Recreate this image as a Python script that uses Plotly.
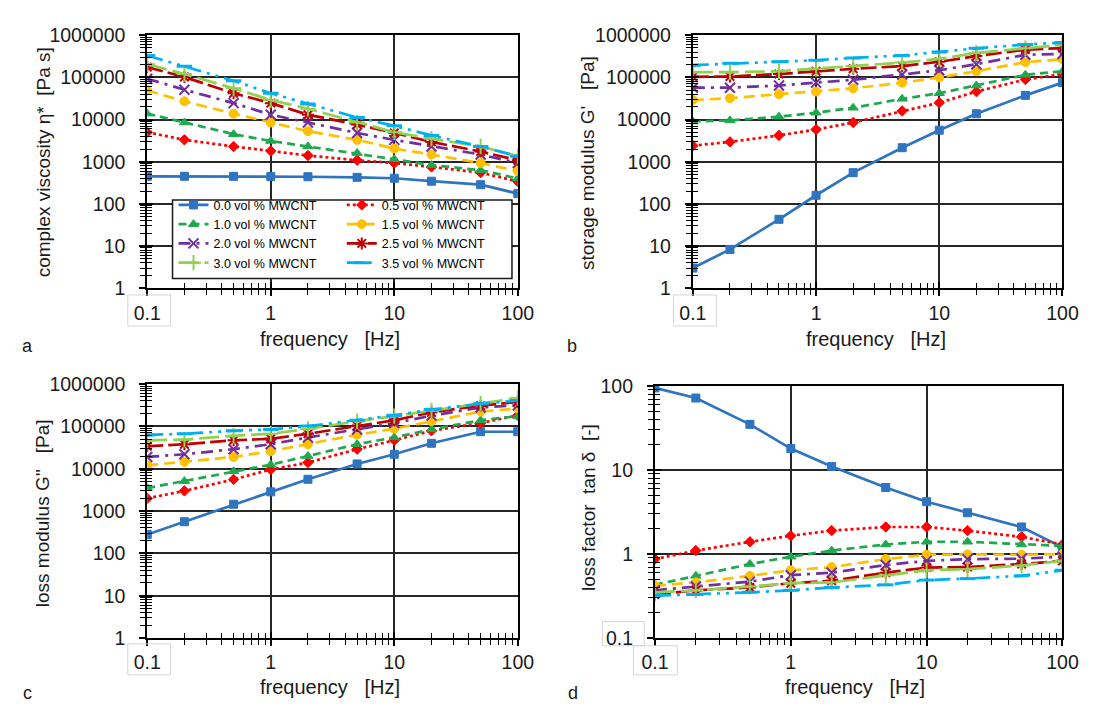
import plotly.graph_objects as go

# Oscillatory shear sweep of MWCNT composites
freq = [0.1, 0.2, 0.5, 1, 2, 5, 10, 20, 50, 100]
series_names = ["0.0 vol % MWCNT", "0.5 vol % MWCNT", "1.0 vol % MWCNT", "1.5 vol % MWCNT",
                "2.0 vol % MWCNT", "2.5 vol % MWCNT", "3.0 vol % MWCNT", "3.5 vol % MWCNT"]

# complex viscosity eta* [Pa s]
eta_00 = [450, 450, 450, 445, 440, 425, 405, 345, 285, 175]
eta_05 = [5000, 3300, 2300, 1800, 1400, 1080, 930, 750, 550, 340]
eta_10 = [13800, 8500, 4500, 3100, 2300, 1600, 1140, 830, 630, 400]
eta_15 = [49000, 27000, 13800, 8500, 5300, 3300, 2050, 1480, 930, 600]
eta_20 = [93000, 51000, 24500, 13000, 8500, 4800, 3300, 2300, 1480, 930]
eta_25 = [175000, 102000, 42000, 24500, 13000, 7600, 4800, 2950, 1740, 1080]
eta_30 = [205000, 120000, 55000, 29000, 18000, 8500, 5000, 3500, 2300, 1350]
eta_35 = [330000, 183000, 83000, 42000, 23500, 11200, 7100, 4200, 2300, 1350]

# storage modulus G' [Pa]
gp_00 = [3, 8.3, 43, 160, 550, 2150, 5600, 13700, 37500, 75000]
gp_05 = [2400, 2950, 4200, 5800, 8500, 16000, 25000, 46000, 89000, 120000]
gp_10 = [9000, 9500, 11700, 14500, 19000, 31000, 42000, 64000, 115000, 140000]
gp_15 = [29000, 32000, 40000, 46000, 55000, 75000, 100000, 140000, 230000, 270000]
gp_20 = [57000, 57000, 64000, 75000, 88000, 117000, 148000, 205000, 345000, 360000]
gp_25 = [103000, 105000, 120000, 140000, 160000, 185000, 235000, 320000, 455000, 495000]
gp_30 = [133000, 133000, 140000, 160000, 185000, 225000, 275000, 380000, 490000, 590000]
gp_35 = [195000, 215000, 235000, 255000, 290000, 330000, 400000, 490000, 600000, 670000]

# loss modulus G'' [Pa]
gpp_00 = [280, 560, 1450, 2850, 5650, 13000, 22000, 40000, 75000, 75000]
gpp_05 = [2000, 3000, 5600, 9600, 14000, 29000, 47000, 79000, 120000, 183000]
gpp_10 = [3500, 5100, 8700, 12500, 20000, 38000, 55000, 85000, 140000, 175000]
gpp_15 = [12000, 14500, 19000, 26000, 38000, 64000, 88000, 133000, 225000, 265000]
gpp_20 = [19000, 22000, 29000, 38000, 55000, 85000, 120000, 180000, 280000, 315000]
gpp_25 = [34000, 38000, 47000, 51000, 67000, 103000, 140000, 215000, 310000, 380000]
gpp_30 = [47000, 49000, 60000, 67000, 87000, 133000, 175000, 235000, 345000, 470000]
gpp_35 = [63000, 67000, 79000, 85000, 102000, 140000, 183000, 250000, 345000, 410000]

# loss factor tan(delta) [-]
tan_00 = [95, 72, 35, 18, 11, 6.2, 4.2, 3.1, 2.1, 1.2]
tan_05 = [0.87, 1.1, 1.4, 1.65, 1.9, 2.1, 2.1, 1.9, 1.6, 1.3]
tan_10 = [0.43, 0.55, 0.76, 0.93, 1.1, 1.3, 1.4, 1.4, 1.3, 1.25]
tan_15 = [0.42, 0.46, 0.55, 0.64, 0.7, 0.87, 0.98, 0.99, 0.98, 1.0]
tan_20 = [0.37, 0.41, 0.47, 0.56, 0.6, 0.74, 0.83, 0.87, 0.88, 0.93]
tan_25 = [0.33, 0.37, 0.4, 0.45, 0.48, 0.6, 0.69, 0.7, 0.76, 0.83]
tan_30 = [0.35, 0.37, 0.41, 0.45, 0.46, 0.56, 0.64, 0.66, 0.73, 0.83]
tan_35 = [0.32, 0.33, 0.35, 0.37, 0.4, 0.43, 0.49, 0.51, 0.55, 0.64]

x_tickvals = [0.1, 1, 10, 100]
x_ticktext = ["0.1", "1", "10", "100"]
mod_tickvals = [1, 10, 100, 1000, 10000, 100000, 1000000]
mod_ticktext = ["1", "10", "100", "1000", "10000", "100000", "1000000"]
tan_tickvals = [0.1, 1, 10, 100]
tan_ticktext = ["0.1", "1", "10", "100"]

panels = [
    dict(data=[eta_00, eta_05, eta_10, eta_15, eta_20, eta_25, eta_30, eta_35],
         title="complex viscosity η*  [Pa s]", letter="a",
         tickvals=mod_tickvals, ticktext=mod_ticktext, yexp=(0, 6)),
    dict(data=[gp_00, gp_05, gp_10, gp_15, gp_20, gp_25, gp_30, gp_35],
         title="storage modulus G'   [Pa]", letter="b",
         tickvals=mod_tickvals, ticktext=mod_ticktext, yexp=(0, 6)),
    dict(data=[gpp_00, gpp_05, gpp_10, gpp_15, gpp_20, gpp_25, gpp_30, gpp_35],
         title="loss modulus G''   [Pa]", letter="c",
         tickvals=mod_tickvals, ticktext=mod_ticktext, yexp=(0, 6)),
    dict(data=[tan_00, tan_05, tan_10, tan_15, tan_20, tan_25, tan_30, tan_35],
         title="loss factor  tan δ  [-]", letter="d",
         tickvals=tan_tickvals, ticktext=tan_ticktext, yexp=(-1, 2)),
]

# line / marker style per loading
styles = [
    dict(color="#2E74C0", dash="solid", symbol="square", size=8, lw=1),
    dict(color="#FF0000", dash="dot", symbol="diamond", size=8, lw=1),
    dict(color="#1FA84F", dash="8px,5px", symbol="triangle-up", size=9, lw=1),
    dict(color="#FFC000", dash="11px,6px", symbol="circle", size=9, lw=1),
    dict(color="#7030A0", dash="12px,6px,3px,6px", symbol="x-thin-open", size=10, lw=2),
    dict(color="#C00000", dash="16px,5px", symbol="asterisk-open", size=10, lw=2),
    dict(color="#92D050", dash="20px,6px", symbol="cross-thin-open", size=11, lw=2),
    dict(color="#00B0F0", dash="16px,6px,3px,6px,3px,6px", symbol="line-ew-open", size=11, lw=3),
]

W, H = 1095, 713

def px_x(p):
    return p / W

def px_y(p):
    return 1 - p / H

# plot-area boxes in pixels: (left, right, top, bottom)
boxes = [(137, 518, 25, 286), (698, 1078, 25, 286),
         (137, 518, 385, 647), (659, 1078, 387, 647)]

fig = go.Figure()
text_color = "#1a1a1a"
font_family = "Liberation Sans, Arial, sans-serif"

for i, (panel, box) in enumerate(zip(panels, boxes), start=1):
    xname = "x" if i == 1 else f"x{i}"
    yname = "y" if i == 1 else f"y{i}"
    for j, (vals, st, name) in enumerate(zip(panel["data"], styles, series_names)):
        fig.add_trace(go.Scatter(
            x=freq, y=vals, name=name, mode="lines+markers",
            xaxis=xname, yaxis=yname,
            line=dict(color=st["color"], width=2.7, dash=st["dash"]),
            marker=dict(symbol=st["symbol"], size=st["size"], color=st["color"],
                        line=dict(color=st["color"], width=st["lw"])),
            showlegend=(i == 1),
            legend="legend" if j % 2 == 0 else "legend2",
            legendrank=j,
        ))
    # empty trace to host the inner tick overlay axes
    ox, oy = f"x{i + 4}", f"y{i + 4}"
    fig.add_trace(go.Scatter(x=[], y=[], xaxis=ox, yaxis=oy, showlegend=False,
                             hoverinfo="skip"))

    l, r, t, b = box
    xdom = [px_x(l), px_x(r)]
    ydom = [px_y(b), px_y(t)]
    y0, y1 = panel["yexp"]
    x_minor = [m * 10.0 ** k for k in range(-1, 2) for m in range(2, 10)]
    y_minor = [m * 10.0 ** k for k in range(y0, y1) for m in range(2, 10)]

    common_x = dict(type="log", range=[-1, 2], domain=xdom)
    common_y = dict(type="log", range=[y0, y1], domain=ydom)

    fig.update_layout(**{
        f"xaxis{i}": dict(
            **common_x, anchor=yname,
            tickmode="array", tickvals=x_tickvals, ticktext=x_ticktext,
            ticks="outside", ticklen=6, tickwidth=1.6, tickcolor="black",
            minor=dict(tickmode="array", tickvals=x_minor, ticks="outside",
                       ticklen=5, tickwidth=1.4, tickcolor="black", showgrid=False),
            showgrid=True, gridcolor="#262626", gridwidth=1.5,
            showline=True, linecolor="black", linewidth=2, mirror=True,
            tickfont=dict(size=19.5, color=text_color), ticklabelstandoff=0,
            zeroline=False,
        ),
        f"yaxis{i}": dict(
            **common_y, anchor=xname,
            tickmode="array", tickvals=panel["tickvals"], ticktext=panel["ticktext"],
            ticks="outside", ticklen=6, tickwidth=1.6, tickcolor="black",
            minor=dict(tickmode="array", tickvals=y_minor, ticks="outside",
                       ticklen=5, tickwidth=1.4, tickcolor="black", showgrid=False),
            showgrid=True, gridcolor="#262626", gridwidth=1.5,
            showline=True, linecolor="black", linewidth=2, mirror=True,
            tickfont=dict(size=19.5, color=text_color), ticklabelstandoff=10,
            zeroline=False,
        ),
        f"xaxis{i + 4}": dict(
            **common_x, anchor=oy, overlaying=xname,
            tickmode="array", tickvals=x_tickvals, showticklabels=False,
            ticks="inside", ticklen=6, tickwidth=1.6, tickcolor="black",
            minor=dict(tickmode="array", tickvals=x_minor, ticks="inside",
                       ticklen=5, tickwidth=1.4, tickcolor="black", showgrid=False),
            showgrid=False, showline=False, zeroline=False,
        ),
        f"yaxis{i + 4}": dict(
            **common_y, anchor=ox, overlaying=yname,
            tickmode="array", tickvals=panel["tickvals"], showticklabels=False,
            ticks="inside", ticklen=6, tickwidth=1.6, tickcolor="black",
            minor=dict(tickmode="array", tickvals=y_minor, ticks="inside",
                       ticklen=5, tickwidth=1.4, tickcolor="black", showgrid=False),
            showgrid=False, showline=False, zeroline=False,
        ),
    })

# axis titles and panel letters
title_pos = [  # (x-title centre, x-title y, y-title x, y-title centre, letter x, letter y)
    (325, 338, 30, 156, 14, 346),
    (886, 338, 589, 157, 574, 346),
    (325, 698, 29, 518, 14, 704),
    (865, 698, 590, 512, 575, 704),
]
annotations = []
centred = dict(xref="paper", yref="paper", showarrow=False,
               xanchor="center", yanchor="middle")
for panel, (xtx, xty, ytx, yty, lx, ly) in zip(panels, title_pos):
    annotations.append(dict(text="frequency   [Hz]", x=px_x(xtx), y=px_y(xty),
                            font=dict(size=20, color=text_color), **centred))
    annotations.append(dict(text=panel["title"], x=px_x(ytx), y=px_y(yty), textangle=-90,
                            font=dict(size=19, color=text_color), **centred))
    annotations.append(dict(text=panel["letter"], x=px_x(lx), y=px_y(ly),
                            font=dict(size=18, color=text_color), **centred))

def rect(x0, y0, x1, y1, **kw):
    return dict(type="rect", xref="paper", yref="paper",
                x0=px_x(x0), x1=px_x(x1), y0=px_y(y1), y1=px_y(y0), **kw)

shapes = [
    # legend frame
    rect(163, 195, 512, 276, line=dict(color="#1a1a1a", width=1.5),
         fillcolor="white", layer="above"),
    # light frames round the first tick labels
    rect(117, 293, 161, 325, line=dict(color="#d6d6d6", width=1)),
    rect(117, 653, 161, 685, line=dict(color="#d6d6d6", width=1)),
    rect(698 - 20, 293, 698 + 24, 325, line=dict(color="#d6d6d6", width=1)),
    rect(605, 630, 648, 655, line=dict(color="#d6d6d6", width=1)),
    rect(637, 655, 682, 685, line=dict(color="#d6d6d6", width=1)),
]

legend_common = dict(orientation="v", xanchor="left", yanchor="top",
                     bgcolor="rgba(0,0,0,0)", borderwidth=0,
                     font=dict(size=12.5, color="black", family=font_family),
                     itemwidth=30, tracegroupgap=0)
fig.update_layout(
    width=W, height=H,
    margin=dict(l=0, r=0, t=0, b=0),
    paper_bgcolor="white", plot_bgcolor="white",
    font=dict(family=font_family, color=text_color),
    showlegend=True,
    legend=dict(x=px_x(164), y=px_y(185), **legend_common),
    legend2=dict(x=px_x(337), y=px_y(185), **legend_common),
    annotations=annotations,
    shapes=shapes,
)

fig.write_html("out.html")
